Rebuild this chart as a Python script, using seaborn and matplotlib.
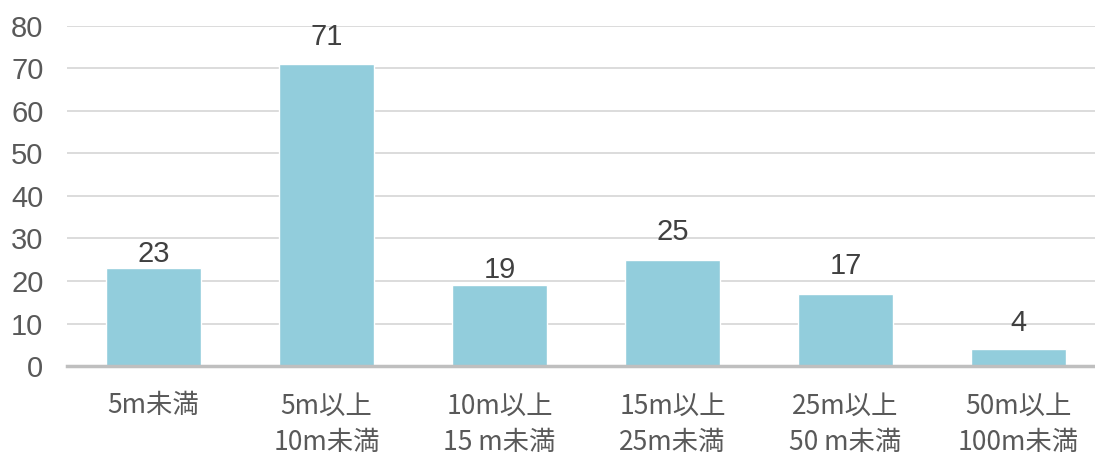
import matplotlib
matplotlib.use("Agg")
import matplotlib.pyplot as plt
import seaborn as sns
import pandas as pd

categories = ["5m未満", "5m以上\n10m未満", "10m以上\n15 m未満", "15m以上\n25m未満",
              "25m以上\n50 m未満", "50m以上\n100m未満"]
counts = [23, 71, 19, 25, 17, 4]
y_ticks = [0, 10, 20, 30, 40, 50, 60, 70, 80]
# gap (pt) between each bar top and its value label
label_offsets = [0, 9.5, 0.7, 10, 10, 8.6]

sns.set_theme(style="white")
plt.rcParams["font.family"] = ["Liberation Sans", "Noto Sans CJK JP", "DejaVu Sans"]

df = pd.DataFrame({"category": categories, "count": counts})

fig = plt.figure(figsize=(10.95, 4.61), dpi=100)
ax = fig.add_axes([0.0612, 0.206, 0.948, 0.738])

sns.barplot(data=df, x="category", y="count", color="#92CDDC", saturation=1,
            width=0.55, ax=ax, zorder=3)

ax.set_ylim(0, 80)
ax.set_xlim(-0.5, len(categories) - 0.5)
ax.set_yticks(y_ticks)
ax.yaxis.grid(True, color="#D9D9D9", linewidth=1.3, zorder=0)
ax.xaxis.grid(False)
for side in ["top", "right", "left"]:
    ax.spines[side].set_visible(False)
ax.spines["bottom"].set_color("#BFBFBF")
ax.spines["bottom"].set_linewidth(2.5)
ax.spines["bottom"].set_zorder(4)

ax.set_xlabel("")
ax.set_ylabel("")
ax.tick_params(axis="y", length=0, labelsize=21, labelcolor="#595959", pad=17)
ax.tick_params(axis="x", length=0, labelsize=19, labelcolor="#595959", pad=19)
for lab in ax.get_xticklabels():
    lab.set_family(["Noto Sans CJK JP", "DejaVu Sans"])
    lab.set_linespacing(1.45)

# value labels above each bar
for patch, value, offset in zip(ax.patches, counts, label_offsets):
    cx = patch.get_x() + patch.get_width() / 2
    ax.annotate(str(value), xy=(cx, patch.get_height()), xytext=(0, offset),
                textcoords="offset points", ha="center", va="bottom",
                fontsize=21, color="#404040", zorder=5)

fig.savefig("out.png", dpi=100, facecolor="white")
